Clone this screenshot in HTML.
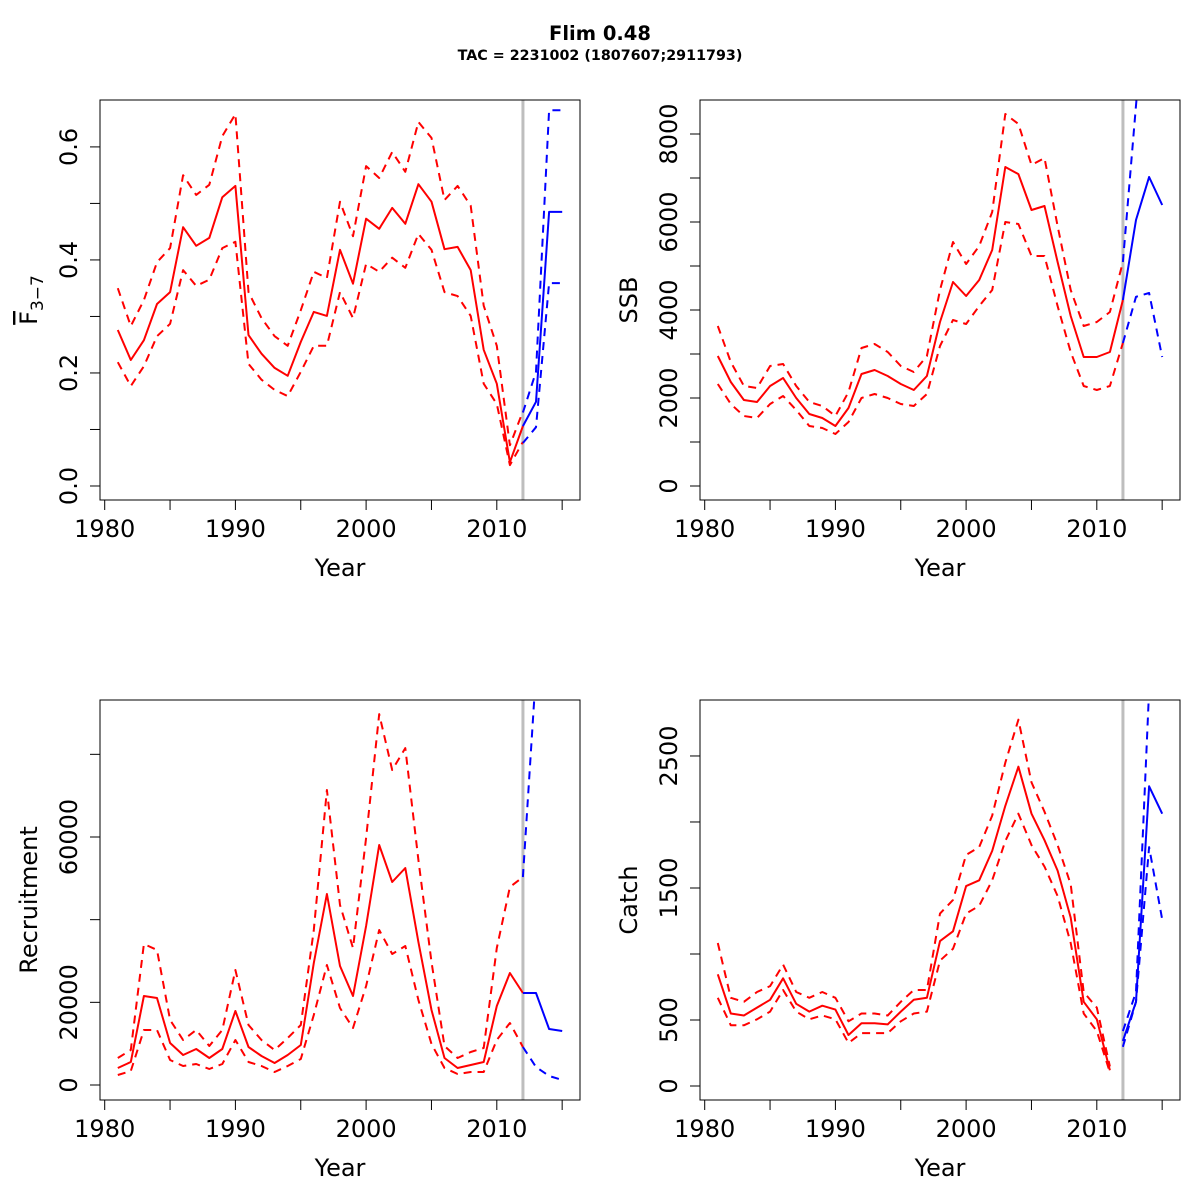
<!DOCTYPE html>
<html><head><meta charset="utf-8"><style>
html,body{margin:0;padding:0;background:#fff;}
svg{display:block;font-family:"DejaVu Sans","Liberation Sans",sans-serif;}
</style></head><body>
<svg id="chart" xmlns="http://www.w3.org/2000/svg" width="1200" height="1200" viewBox="0 0 1200 1200">
<rect width="1200" height="1200" fill="#fff"/>
<text x="600" y="40" text-anchor="middle" font-size="19.5" font-weight="bold">Flim 0.48</text>
<text x="600" y="60" text-anchor="middle" font-size="14.3" font-weight="bold">TAC = 2231002 (1807607;2911793)</text>
</svg>
<script>
// ---------- data ----------
const histYears = [1981,1982,1983,1984,1985,1986,1987,1988,1989,1990,1991,1992,1993,1994,1995,1996,1997,1998,1999,2000,2001,2002,2003,2004,2005,2006,2007,2008,2009,2010,2011,2012];
const projYears = [2012,2013,2014,2015];
const xTicks = [1980,1985,1990,1995,2000,2005,2010,2015];
const xTickLabels = ["1980","","1990","","2000","","2010",""];

const fMid = [0.276,0.223,0.258,0.322,0.343,0.458,0.425,0.439,0.511,0.531,0.267,0.234,0.209,0.195,0.255,0.308,0.301,0.418,0.358,0.473,0.455,0.492,0.464,0.534,0.503,0.419,0.423,0.382,0.241,0.181,0.042,0.106];
const fUp = [0.35,0.283,0.329,0.396,0.421,0.55,0.515,0.533,0.619,0.658,0.343,0.297,0.265,0.248,0.311,0.379,0.368,0.503,0.442,0.566,0.545,0.591,0.556,0.644,0.616,0.506,0.531,0.496,0.319,0.248,0.072,0.132];
const fLo = [0.219,0.177,0.212,0.265,0.287,0.382,0.354,0.365,0.421,0.432,0.216,0.188,0.17,0.159,0.202,0.248,0.248,0.343,0.297,0.393,0.379,0.404,0.386,0.446,0.418,0.343,0.336,0.301,0.181,0.145,0.037,0.078];
const fProjMid = [0.106,0.149,0.485,0.485];
const fProjUp = [0.13,0.202,0.665,0.665];
const fProjLo = [0.076,0.104,0.359,0.359];
const fTicks = [0,0.1,0.2,0.3,0.4,0.5,0.6];
const fTickLabels = ["0.0","","0.2","","0.4","","0.6"];

const ssbMid = [2955,2364,1955,1909,2273,2455,2000,1636,1545,1364,1773,2545,2636,2500,2318,2182,2500,3727,4636,4318,4682,5364,7250,7090,6272,6364,5091,3864,2932,2932,3045,4227];
const ssbUp = [3636,2818,2273,2227,2727,2773,2273,1909,1818,1591,2136,3136,3227,3045,2727,2591,2955,4455,5545,5045,5455,6227,8455,8227,7296,7455,5909,4455,3636,3727,3955,5091];
const ssbLo = [2318,1864,1591,1545,1864,2045,1727,1364,1318,1182,1455,2000,2091,2000,1864,1818,2091,3182,3773,3682,4091,4455,6000,5955,5227,5227,4091,3045,2273,2182,2273,3250];
const ssbProjMid = [4227,6045,7023,6387];
const ssbProjUp = [5091,8650,12000,12000];
const ssbProjLo = [3250,4300,4386,2932];
const ssbTicks = [0,1000,2000,3000,4000,5000,6000,7000,8000];
const ssbTickLabels = ["0","","2000","","4000","","6000","","8000"];

const recMid = [4112,5564,21530,21045,10160,7257,8708,6531,8708,17900,9192,7015,5322,7257,9676,29512,46200,28786,21530,38460,58056,49106,52493,34590,18143,6531,4112,4838,5564,19110,27093,22250];
const recUp = [6531,8466,34108,32656,15723,10885,13304,9434,13304,27818,14514,10885,8466,11369,14514,37494,71360,43542,33140,59750,89745,76200,81520,54428,29754,9434,6531,7983,8950,33140,47900,50300];
const recLo = [2419,3387,13304,13304,6048,4596,5080,3870,5080,10885,5564,4596,3145,4596,6290,16933,29028,18627,13789,23948,37494,31690,33624,20562,9918,4112,2661,3145,3145,10885,15000,9190];
const recProjMid = [22250,22250,13550,13060];
const recProjUp = [50300,100000,140000,140000];
const recProjLo = [9190,4350,2177,1210];
const recTicks = [0,20000,40000,60000,80000];
const recTickLabels = ["0","20000","","60000",""];

const catchYears = [1981,1982,1983,1984,1985,1986,1987,1988,1989,1990,1991,1992,1993,1994,1995,1996,1997,1998,1999,2000,2001,2002,2003,2004,2005,2006,2007,2008,2009,2010,2011];
const catchMid = [846,549,534,594,653,816,623,564,608,579,386,475,475,467,564,653,668,1098,1172,1514,1558,1781,2122,2419,2063,1862,1632,1276,638,505,119];
const catchUp = [1083,668,638,712,757,920,712,668,712,668,490,549,549,534,638,727,727,1306,1410,1751,1810,2048,2449,2775,2300,2078,1825,1528,712,594,148];
const catchLo = [668,460,460,505,564,727,564,505,534,505,326,401,401,401,490,549,564,950,1039,1306,1365,1558,1855,2063,1825,1662,1439,1083,549,416,104];
const catchProjMid = [341,638,2270,2063];
const catchProjUp = [416,712,3000,4000];
const catchProjLo = [297,638,1810,1261];
const catchTicks = [0,500,1000,1500,2000,2500];
const catchTickLabels = ["0","500","","1500","","2500"];

// ---------- drawing ----------
const NS = "http://www.w3.org/2000/svg";
const svg = document.getElementById('chart');
const X0 = 1979.64, PXY = 13.07;
const FS = 24;
let clipId = 0;
function mk(tag, attrs, parent){
  const e = document.createElementNS(NS, tag);
  for (const k in attrs) e.setAttribute(k, attrs[k]);
  (parent||svg).appendChild(e);
  return e;
}
function panel(name, left, top, yMin, yMax, yTicks, yTickLabels, yLabel, series){
  const W = 480, H = 400;
  const xs = v => left + (v - X0) * PXY;
  const ys = v => top + H - (v - yMin) / (yMax - yMin) * H;
  const g = mk('g', {});
  
  
  const cid = 'clip' + (clipId++);
  const cp = mk('clipPath', {id: cid}, g);
  mk('rect', {x: left, y: top, width: W, height: H}, cp);
  const vl = mk('line', {x1: xs(2012), x2: xs(2012), y1: top, y2: top + H, stroke: '#bebebe', 'stroke-width': 3}, g);
  
  
  const sg = mk('g', {'clip-path': 'url(#' + cid + ')'}, g);
  series.forEach(s => {
    const pts = s.years.map((yr, i) => xs(yr).toFixed(1) + ',' + ys(s.vals[i]).toFixed(1)).join(' ');
    const pl = mk('polyline', {points: pts, fill: 'none', stroke: s.color, 'stroke-width': 2, 'stroke-linejoin': 'round'}, sg);
    if (s.dash) pl.setAttribute('stroke-dasharray', '8 6');
    
    
  });
  const box = mk('rect', {x: left, y: top, width: W, height: H, fill: 'none', stroke: '#000', 'stroke-width': 1}, g);
  
  
  const xa = mk('g', {}, g);
  
  
  mk('line', {x1: xs(xTicks[0]), x2: xs(xTicks[xTicks.length-1]), y1: top+H, y2: top+H, stroke: '#000'}, xa);
  xTicks.forEach((t, i) => {
    mk('line', {x1: xs(t), x2: xs(t), y1: top+H, y2: top+H+10, stroke: '#000'}, xa);
    if (xTickLabels[i]) {
      const tx = mk('text', {x: xs(t), y: top+H+37, 'text-anchor': 'middle', 'font-size': FS}, xa);
      tx.textContent = xTickLabels[i];
      
      
    }
  });
  const xt = mk('text', {x: left + W/2, y: top+H+76, 'text-anchor': 'middle', 'font-size': FS}, g);
  xt.textContent = 'Year';
  
  
  const ya = mk('g', {}, g);
  
  
  mk('line', {x1: left, x2: left, y1: ys(yTicks[0]), y2: ys(yTicks[yTicks.length-1]), stroke: '#000'}, ya);
  yTicks.forEach((t, i) => {
    mk('line', {x1: left-10, x2: left, y1: ys(t), y2: ys(t), stroke: '#000'}, ya);
    if (yTickLabels[i]) {
      const tx = mk('text', {x: 0, y: 0, 'text-anchor': 'middle', 'font-size': FS, transform: 'translate(' + (left-23) + ',' + ys(t) + ') rotate(-90)'}, ya);
      tx.textContent = yTickLabels[i];
      
      
    }
  });
  const yt = mk('text', {x: 0, y: 0, 'text-anchor': 'middle', 'font-size': FS, transform: 'translate(' + (left-63) + ',' + (top+H/2) + ') rotate(-90)'}, g);
  
  
  if (yLabel === 'FBAR') {
    const t1 = mk('tspan', {}, yt); t1.textContent = 'F';
    t1.setAttribute('text-decoration', 'overline');
    const t2 = mk('tspan', {'font-size': 17, dy: 6}, yt); t2.textContent = '3\u22127';
  } else yt.textContent = yLabel;
}
function sers(hy, mid, up, lo, py, pm, pu, pl){
  return [
    {name:'hist-upper', years:hy, vals:up, color:'#ff0000', dash:true},
    {name:'hist-lower', years:hy, vals:lo, color:'#ff0000', dash:true},
    {name:'hist-estimate', years:hy, vals:mid, color:'#ff0000', dash:false},
    {name:'proj-upper', years:py, vals:pu, color:'#0000ff', dash:true},
    {name:'proj-lower', years:py, vals:pl, color:'#0000ff', dash:true},
    {name:'proj-median', years:py, vals:pm, color:'#0000ff', dash:false}
  ];
}
panel('fbar', 100, 100, -0.0248, 0.683, fTicks, fTickLabels, 'FBAR', sers(histYears, fMid, fUp, fLo, projYears, fProjMid, fProjUp, fProjLo));
panel('ssb', 700, 100, -318, 8773, ssbTicks, ssbTickLabels, 'SSB', sers(histYears, ssbMid, ssbUp, ssbLo, projYears, ssbProjMid, ssbProjUp, ssbProjLo));
panel('recruitment', 100, 700, -3629, 93145, recTicks, recTickLabels, 'Recruitment', sers(histYears, recMid, recUp, recLo, projYears, recProjMid, recProjUp, recProjLo));
panel('catch', 700, 700, -106, 2924, catchTicks, catchTickLabels, 'Catch', sers(catchYears, catchMid, catchUp, catchLo, projYears, catchProjMid, catchProjUp, catchProjLo));
</script>
</body></html>
